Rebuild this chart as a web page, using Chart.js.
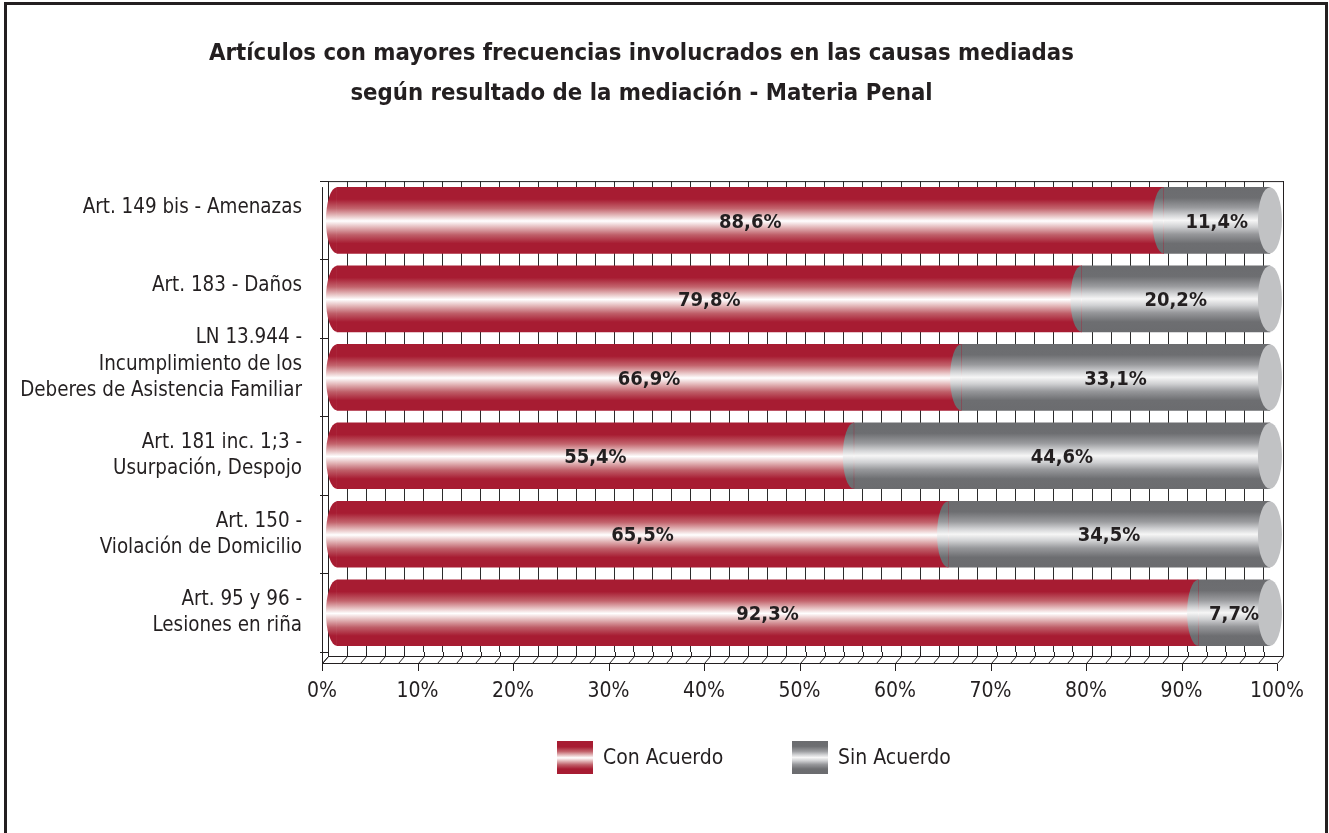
<!DOCTYPE html>
<html>
<head>
<meta charset="utf-8">
<script src="https://cdn.jsdelivr.net/npm/chart.js@4.4.0/dist/chart.umd.min.js"></script>
<style>
  html, body { margin: 0; padding: 0; background: #fff; overflow: hidden; }
</style>
</head>
<body>
<canvas id="mainChart" width="1329" height="833"></canvas>
<script>
// data
const categories = [
    ['Art. 149 bis - Amenazas', ''],
    ['Art. 183 - Daños', ''],
    ['LN 13.944 -', 'Incumplimiento de los', 'Deberes de Asistencia Familiar', ''],
    ['Art. 181 inc. 1;3 -', 'Usurpación, Despojo'],
    ['Art. 150 -', 'Violación de Domicilio'],
    ['Art. 95 y 96 -', 'Lesiones en riña']
];
const conAcuerdo = [88.6, 79.8, 66.9, 55.4, 65.5, 92.3];
const sinAcuerdo = [11.4, 20.2, 33.1, 44.6, 34.5, 7.7];
const seriesNames = ['Con Acuerdo', 'Sin Acuerdo'];
const xTickLabels = ['0%', '10%', '20%', '30%', '40%', '50%', '60%', '70%', '80%', '90%', '100%'];
const titleLines = [
    'Artículos con mayores frecuencias involucrados en las causas mediadas',
    'según resultado de la mediación - Materia Penal'
];

const FONT = "'DejaVu Sans Condensed', 'Liberation Sans', sans-serif";
const INK = '#231f20';
const BAR_H = 66;
const RX = 11;      // cylinder end ellipse
const DEPTH = 6;    // 3d floor offset

// gradient stops for the cylinders
const RED = [[0, '#a71c32'], [0.18, '#a71c32'], [0.32, '#c3646d'], [0.43, '#e6bfc0'], [0.51, '#ffffff'],
             [0.61, '#e2b4b6'], [0.72, '#bf5f69'], [0.85, '#a71c32'], [1, '#a71c32']];
const GRAY = [[0, '#6b6c6f'], [0.16, '#6d6e71'], [0.31, '#9a9b9e'], [0.42, '#d2d3d5'], [0.5, '#f6f6f6'],
              [0.6, '#cfd0d2'], [0.71, '#97989b'], [0.85, '#6d6e71'], [1, '#6b6c6f']];
const CAP = '#c1c2c4';

Chart.defaults.font.family = FONT;
Chart.defaults.color = INK;

function cylGrad(ctx, top, h, stops) {
    const g = ctx.createLinearGradient(0, top, 0, top + h);
    stops.forEach(s => g.addColorStop(s[0], s[1]));
    return g;
}

function barFill(c, stops) {
    const chart = c.chart;
    const ys = chart.scales.y;
    if (!chart.chartArea || !ys || c.dataIndex === undefined) return stops[0][1];
    const yc = ys.getPixelForValue(c.dataIndex);
    return cylGrad(chart.ctx, yc - BAR_H / 2, BAR_H, stops);
}

// frame, 3d floor, cylinder ends, value labels, legend
const cylinderPlugin = {
    id: 'cylinders',
    beforeDraw(chart) {
        const ctx = chart.ctx;
        ctx.save();
        ctx.fillStyle = '#fff';
        ctx.fillRect(0, 0, chart.width, chart.height);
        ctx.strokeStyle = INK;
        ctx.lineWidth = 3;
        ctx.strokeRect(5.5, 3.5, 1321, 900);
        ctx.restore();
    },
    beforeDatasetsDraw(chart) {
        const { ctx, chartArea: a } = chart;
        const xs = chart.scales.x;
        ctx.save();
        ctx.strokeStyle = INK;
        ctx.lineWidth = 1;
        ctx.beginPath();
        // back wall top + right edge
        ctx.moveTo(a.left, a.top + 0.5); ctx.lineTo(a.right + 0.5, a.top + 0.5);
        ctx.moveTo(a.right + 0.5, a.top); ctx.lineTo(a.right + 0.5, a.bottom + 4);
        // floor
        ctx.moveTo(a.left, a.bottom + 4.5); ctx.lineTo(a.right, a.bottom + 4.5);
        ctx.moveTo(a.left - DEPTH, a.bottom + 11.5); ctx.lineTo(a.right - DEPTH, a.bottom + 11.5);
        // front left edge
        ctx.moveTo(a.left - DEPTH + 0.5, a.top + 6); ctx.lineTo(a.left - DEPTH + 0.5, a.bottom + 11.5);
        ctx.moveTo(a.left - DEPTH + 0.5, a.bottom + 11.5); ctx.lineTo(a.left + 0.5, a.bottom + 4.5);
        for (let v = 0; v <= 100; v += 2) {
            const px = Math.round(xs.getPixelForValue(v)) + 0.5;
            ctx.moveTo(px, a.bottom); ctx.lineTo(px, a.bottom + 4.5);
            ctx.moveTo(px, a.bottom + 4.5); ctx.lineTo(px - DEPTH, a.bottom + 11.5);
            if (v % 10 === 0) {
                ctx.moveTo(px - DEPTH, a.bottom + 11.5); ctx.lineTo(px - DEPTH, a.bottom + 19);
            }
        }
        ctx.stroke();
        ctx.restore();
    },
    afterDatasetsDraw(chart) {
        const ctx = chart.ctx;
        const n = chart.data.datasets.length;
        ctx.save();
        chart.data.datasets.forEach((ds, di) => {
            const stops = di === 0 ? RED : GRAY;
            chart.getDatasetMeta(di).data.forEach(el => {
                const p = el.getProps(['x', 'base', 'y', 'height'], true);
                const top = p.y - p.height / 2;
                ctx.fillStyle = cylGrad(ctx, top, p.height, stops);
                ctx.beginPath();
                ctx.ellipse(p.base, p.y, RX, p.height / 2, 0, Math.PI / 2, Math.PI * 3 / 2);
                ctx.closePath();
                ctx.fill();
                if (di === n - 1) {
                    ctx.fillStyle = CAP;
                    ctx.beginPath();
                    ctx.ellipse(p.x, p.y, RX + 1, p.height / 2, 0, 0, Math.PI * 2);
                    ctx.fill();
                }
            });
        });
        // value labels
        ctx.fillStyle = INK;
        ctx.font = 'bold 20px ' + FONT;
        ctx.textAlign = 'center';
        ctx.textBaseline = 'middle';
        chart.data.datasets.forEach((ds, di) => {
            chart.getDatasetMeta(di).data.forEach((el, i) => {
                const p = el.getProps(['x', 'base', 'y'], true);
                const txt = ds.data[i].toFixed(1).replace('.', ',') + '%';
                ctx.fillText(txt, (p.x + p.base) / 2, p.y + 2);
            });
        });
        ctx.restore();
    },
    afterDraw(chart) {
        // legend
        const ctx = chart.ctx;
        const items = [[557, RED], [792, GRAY]];
        ctx.save();
        ctx.font = '21px ' + FONT;
        ctx.textBaseline = 'middle';
        ctx.textAlign = 'left';
        items.forEach((it, i) => {
            ctx.fillStyle = cylGrad(ctx, 741, 33, it[1]);
            ctx.fillRect(it[0], 741, 36, 33);
            ctx.fillStyle = INK;
            ctx.fillText(seriesNames[i], it[0] + 46, 759);
        });
        ctx.restore();
    }
};

const mainChart = new Chart(document.getElementById('mainChart').getContext('2d'), {
    type: 'bar',
    data: {
        labels: categories,
        datasets: [
            { label: seriesNames[0], data: conAcuerdo, xAxisID: 'xb', yAxisID: 'y',
              backgroundColor: c => barFill(c, RED), barThickness: BAR_H, borderWidth: 0 },
            { label: seriesNames[1], data: sinAcuerdo, xAxisID: 'xb', yAxisID: 'y',
              backgroundColor: c => barFill(c, GRAY), barThickness: BAR_H, borderWidth: 0 }
        ]
    },
    options: {
        indexAxis: 'y',
        responsive: false,
        animation: false,
        devicePixelRatio: 1,
        layout: { padding: { left: 0, right: 46, top: 0, bottom: 0 } },
        plugins: {
            legend: { display: false },
            tooltip: { enabled: false },
            title: {
                display: true,
                text: titleLines,
                color: INK,
                font: { size: 23.7, weight: 'bold', lineHeight: 1.69 },
                padding: { top: 34, bottom: 67 }
            }
        },
        scales: {
            y: {
                stacked: true,
                afterFit: s => { s.width = 328; },
                grid: { offset: true, drawOnChartArea: false, tickLength: 8, color: INK },
                border: { color: INK },
                ticks: { padding: 18, autoSkip: false, color: INK, font: { size: 20.4, lineHeight: 1.28 } }
            },
            x: {
                type: 'linear',
                position: 'bottom',
                min: 0,
                max: 100,
                afterFit: s => { s.height = 181; s.paddingLeft = 0; s.paddingRight = 0; },
                grid: { color: '#2b2b2b', lineWidth: 1, drawTicks: false },
                border: { display: false },
                ticks: {
                    stepSize: 2,
                    autoSkip: false,
                    maxRotation: 0,
                    padding: 27,
                    labelOffset: -DEPTH,
                    color: INK,
                    font: { size: 21 },
                    callback: v => (v % 10 === 0 ? xTickLabels[v / 10] : '')
                }
            },
            xb: {
                type: 'linear',
                position: 'bottom',
                display: false,
                stacked: true,
                min: -0.96,
                max: 101.4
            }
        }
    },
    plugins: [cylinderPlugin]
});
</script>
</body>
</html>
